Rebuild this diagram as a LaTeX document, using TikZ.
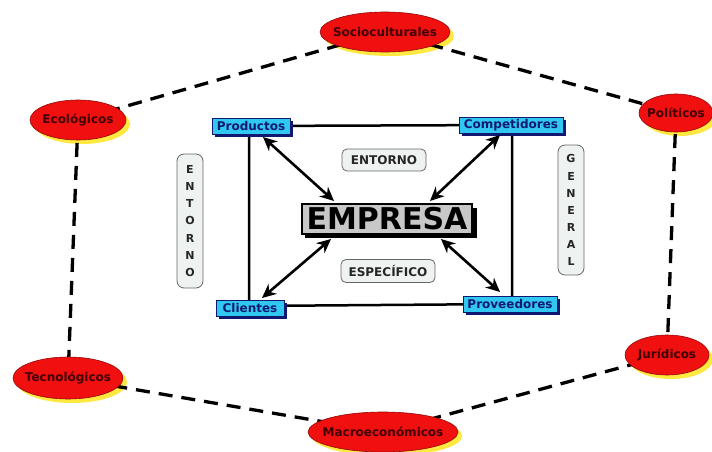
\documentclass[tikz,border=0pt]{standalone}
\usepackage{fontspec}
\setmainfont{DejaVu Sans}
\usetikzlibrary{shapes.geometric,arrows.meta}
\pgfdeclarelayer{background}
\pgfsetlayers{background,main}
\definecolor{ered}{HTML}{F01010}
\definecolor{eyel}{HTML}{FFE840}
\definecolor{bcyan}{HTML}{30C8F0}
\definecolor{bnavy}{HTML}{101870}
\definecolor{egray}{HTML}{C8C8C8}
\definecolor{lbox}{HTML}{EEF2F0}
\tikzset{
  factor/.style={ellipse, draw=ered!60!black, line width=0.6pt, fill=ered, inner sep=0pt,
    font=\bfseries\fontsize{12}{14}\selectfont, text=black!75!red},
  actor/.style={rectangle, draw=bnavy, line width=1pt, fill=bcyan, inner sep=0pt,
    minimum height=16pt, font=\bfseries\fontsize{12}{14}\selectfont, text=bnavy},
  label/.style={rectangle, rounded corners=5pt, draw=black!60, line width=0.8pt, fill=lbox,
    font=\bfseries\fontsize{12}{14}\selectfont, text=black!85},
  vlabel/.style={label, minimum width=26pt, rounded corners=7pt, inner sep=4pt,
    font=\bfseries\fontsize{11}{12}\selectfont},
  link/.style={dash pattern=on 14pt off 9pt, line width=3.3pt, black},
  frame/.style={line width=2.5pt, black},
  dbl/.style={line width=2.6pt, {Stealth[length=14pt,width=13pt]}-{Stealth[length=14pt,width=13pt]}}
}
\begin{document}
\begin{tikzpicture}[x=1pt,y=-1pt]
\useasboundingbox (0,0) rectangle (712,452);
\begin{pgfonlayer}{background}
\fill[white] (0,0) rectangle (712,452);
\foreach \x/\y/\w/\h in {385/32/130/40, 676/113/74/38, 78/120/96/40, 68/378/110/42, 667/355/84/40, 383/432/150/40}
  \fill[eyel] (\x+4,\y+4) ellipse ({\w/2} and {\h/2});
\end{pgfonlayer}
\node[factor, minimum width=130pt, minimum height=40pt] (S) at (385,32) {\makebox[0pt]{Socioculturales}};
\node[factor, minimum width=74pt, minimum height=38pt] (P) at (676,113) {\makebox[0pt]{Políticos}};
\node[factor, minimum width=96pt, minimum height=40pt] (E) at (78,120) {\makebox[0pt]{Ecológicos}};
\node[factor, minimum width=110pt, minimum height=42pt] (T) at (68,378) {\makebox[0pt]{Tecnológicos}};
\node[factor, minimum width=84pt, minimum height=40pt] (J) at (667,355) {\makebox[0pt]{Jurídicos}};
\node[factor, minimum width=150pt, minimum height=40pt] (M) at (383,432) {\makebox[0pt]{Macroeconómicos}};
% dashed links, behind the ellipses
\begin{pgfonlayer}{background}
\draw[link] (S.center) -- (P.center);
\draw[link] (S.center) -- (E.center);
\draw[link] (E.center) -- (T.center);
\draw[link] (T.center) -- (M.center);
\draw[link] (M.center) -- (J.center);
\draw[link] (J.center) -- (P.center);
\end{pgfonlayer}
% inner frame
\coordinate (fTL) at (249,126);
\coordinate (fTR) at (512,125);
\coordinate (fBL) at (249,306);
\coordinate (fBR) at (512,304);
\draw[frame] (fTL) -- (fTR) -- (fBR) -- (fBL) -- cycle;
% actor shadows
\foreach \x/\y/\w in {251/126/78, 511/125/104, 250/308/68, 510/304/94}
  \fill[bnavy] (\x-\w/2+3,\y-8+3) rectangle (\x+\w/2+3,\y+8+3);
\node[actor, minimum width=78pt] (Pr) at (251,126) {Productos};
\node[actor, minimum width=104pt] (Co) at (511,125) {Competidores};
\node[actor, minimum width=68pt] (Cl) at (250,308) {Clientes};
\node[actor, minimum width=94pt] (Pv) at (510,304) {Proveedores};
% empresa
\fill[black] (305,208) rectangle (477,238);
\node[rectangle, draw=black, line width=1.2pt, fill=egray, minimum width=170pt, minimum height=30pt, inner sep=0pt,
  font=\bfseries\fontsize{30}{30}\selectfont] (Em) at (387,219) {EMPRESA};
% arrows
\draw[dbl] ([shift={(12,11)}]Pr.center) -- ([shift={(-53,-18)}]Em.center);
\draw[dbl] ([shift={(-11,10)}]Co.center) -- ([shift={(43,-18)}]Em.center);
\draw[dbl] ([shift={(12,-10)}]Cl.center) -- ([shift={(-56,20)}]Em.center);
\draw[dbl] ([shift={(-10,-12)}]Pv.center) -- ([shift={(54,20)}]Em.center);
% labels
\node[label, minimum width=84pt, minimum height=22pt] (L1) at (384,160) {ENTORNO};
\node[label, minimum width=94pt, minimum height=23pt] (L2) at (388,271) {ESPECÍFICO};
\node[vlabel, minimum height=134pt] (L3) at (190,221)
  {\shortstack{E\\[6pt]N\\[6pt]T\\[6pt]O\\[6pt]R\\[6pt]N\\[6pt]O}};
\node[vlabel, minimum height=130pt] (L4) at (571,210)
  {\shortstack{G\\[6pt]E\\[6pt]N\\[6pt]E\\[6pt]R\\[6pt]A\\[6pt]L}};
\end{tikzpicture}
\end{document}
